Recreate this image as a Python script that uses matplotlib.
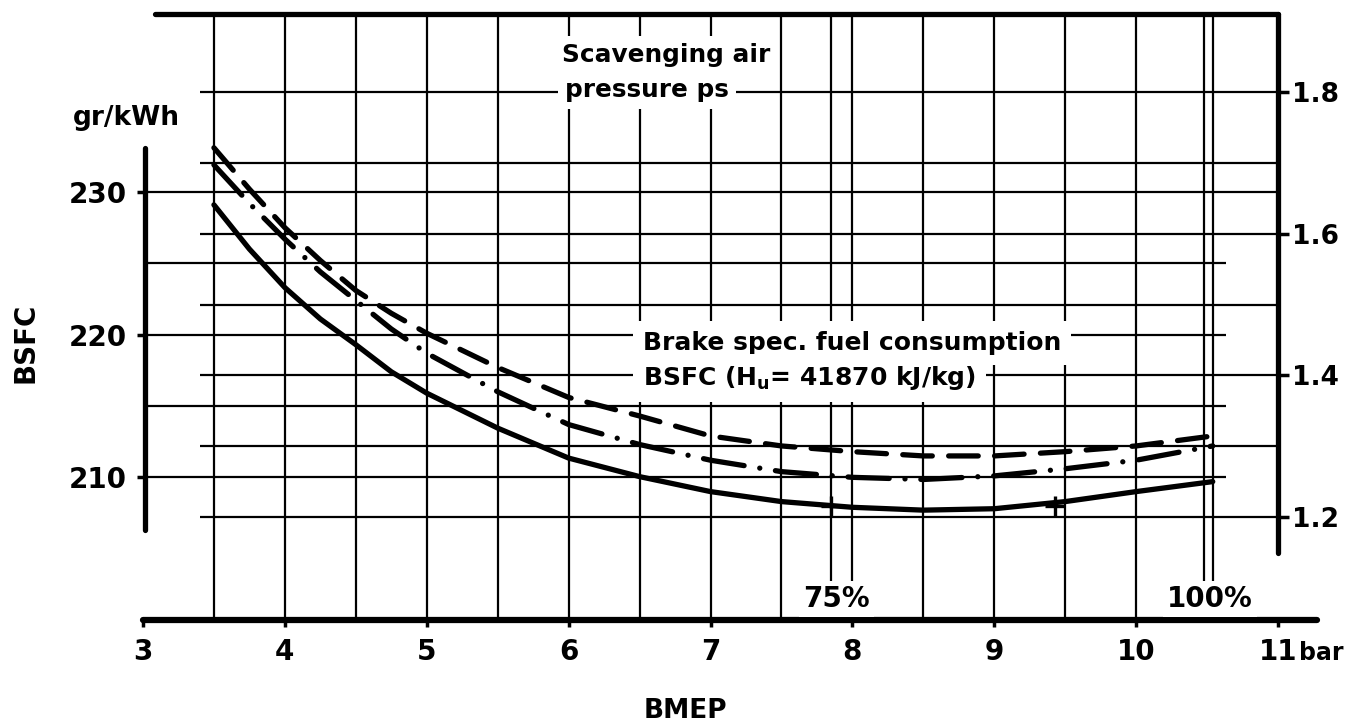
import matplotlib
matplotlib.use("Agg")
import matplotlib.pyplot as plt

# BMEP (bar) on the x axis, BSFC (g/kWh)
bmep = [3.5, 3.75, 4.0, 4.25, 4.5, 4.75, 5.0, 5.5, 6.0, 6.5, 7.0, 7.5, 8.0,
        8.5, 9.0, 9.5, 10.0, 10.54]
bsfc_solid = [229.1, 226.0, 223.3, 221.1, 219.3, 217.4, 215.9, 213.45, 211.35,
              210.05, 209.0, 208.3, 207.9, 207.7, 207.8, 208.3, 209.0, 209.7]
bsfc_dashdot = [231.9, 229.2, 226.7, 224.4, 222.4, 220.4, 218.7, 216.0, 213.7,
                212.3, 211.2, 210.4, 210.0, 209.85, 210.1, 210.6, 211.2, 212.2]
bsfc_dashed = [233.1, 230.2, 227.5, 225.2, 223.1, 221.5, 220.1, 217.7, 215.6,
               214.3, 212.9, 212.2, 211.8, 211.5, 211.5, 211.8, 212.2, 212.9]

# load points marked with a cross on the solid curve
cross_bmep = [7.85, 9.43]
cross_bsfc = [208.0, 208.0]

x_ticks = [3, 4, 5, 6, 7, 8, 9, 10, 11]
x_labels = ["3", "4", "5", "6", "7", "8", "9", "10", "11"]
bsfc_ticks = [210, 220, 230]
bsfc_labels = ["210", "220", "230"]
ps_ticks = [1.2, 1.4, 1.6, 1.8]
ps_labels = ["1.2", "1.4", "1.6", "1.8"]

grid_bmep = [3.5, 4, 4.5, 5, 5.5, 6, 6.5, 7, 7.5, 7.85, 8, 8.5, 9, 9.5, 10, 10.48, 10.54]
grid_bsfc = [210, 215, 220, 225]
grid_ps = [1.2, 1.3, 1.4, 1.5, 1.6, 1.7, 1.8]

plt.rcParams["font.family"] = ["DejaVu Sans"]
plt.rcParams["font.weight"] = "bold"
plt.rcParams["mathtext.fontset"] = "dejavusans"

# pixel layout of the original scan
W, H = 1350, 724
PX_X = (1278 - 143) / 8.0     # pixels per bar
PX_Y = (620 - 192) / 30.0     # pixels per g/kWh
PX_P = (517 - 92) / 0.6       # pixels per bar of scavenging pressure
xlim = (2.6, 11.45)
ylim = (197.0, 243.4)

left = 143 + (xlim[0] - 3) * PX_X
right = 143 + (xlim[1] - 3) * PX_X
top = 620 - (ylim[1] - 200) * PX_Y
bottom = 620 - (ylim[0] - 200) * PX_Y

fig = plt.figure(figsize=(13.5, 7.24), dpi=100)
ax = fig.add_axes([left / W, 1 - bottom / H, (right - left) / W, (bottom - top) / H])
ax.set_xlim(*xlim)
ax.set_ylim(*ylim)


def b2p(b):
    pix = 620 - (b - 200) * PX_Y
    return 1.2 + (517 - pix) / PX_P


def p2b(p):
    pix = 517 - (p - 1.2) * PX_P
    return 200 + (620 - pix) / PX_Y


TOP = 242.48
grid_kw = dict(color="black", lw=1.6, zorder=1)

# grid
ax.vlines(grid_bmep, 200, TOP, **grid_kw)
ax.hlines(grid_bsfc, 3.0, 10.63, **grid_kw)
ax.hlines([230], 3.0, 11.0, **grid_kw)
ax.hlines([p2b(p) for p in grid_ps], 3.4, 11.0, **grid_kw)

# frame: top line
ax.plot([3.085, 11.0], [TOP, TOP], color="black", lw=3.8,
        solid_capstyle="round", zorder=5, clip_on=False)

# curves
ax.plot(bmep, bsfc_solid, color="black", lw=3.8, solid_capstyle="round",
        solid_joinstyle="round", zorder=4)
ax.plot(bmep, bsfc_dashdot, color="black", lw=3.8,
        linestyle=(0, (7.8, 3.0, 0.01, 3.0)), dash_capstyle="round", zorder=4)
ax.plot(bmep, bsfc_dashed, color="black", lw=3.8,
        linestyle=(0, (5.6, 3.1)), dash_capstyle="round", zorder=4)
ax.plot(cross_bmep, cross_bsfc, linestyle="none", marker="+", color="black",
        markersize=15, markeredgewidth=2.4, zorder=4)

# axes
for s in ["top", "right"]:
    ax.spines[s].set_visible(False)
ax.spines["bottom"].set_position(("data", 200))
ax.spines["bottom"].set_bounds(3.0, 11.275)
ax.spines["bottom"].set_linewidth(4.5)
ax.spines["bottom"].set_capstyle("round")
ax.spines["left"].set_position(("data", 3.014))
ax.spines["left"].set_bounds(206.3, 233.1)
ax.spines["left"].set_linewidth(3.8)
ax.spines["left"].set_capstyle("round")

ax.set_xticks(x_ticks)
ax.set_xticklabels(x_labels)
ax.set_yticks(bsfc_ticks)
ax.set_yticklabels(bsfc_labels)
ax.tick_params(axis="x", direction="out", length=5, width=2.5, pad=8, labelsize=20)
ax.tick_params(axis="y", direction="out", length=6, width=2.5, pad=7, labelsize=20)

sec = ax.secondary_yaxis((11.0 - xlim[0]) / (xlim[1] - xlim[0]), functions=(b2p, p2b))
sec.set_yticks(ps_ticks)
sec.set_yticklabels(ps_labels)
sec.tick_params(axis="y", direction="out", length=8, width=2.5, pad=2, labelsize=19)
sec.spines["right"].set_bounds(b2p(204.7), b2p(TOP))
sec.spines["right"].set_linewidth(3.8)
sec.spines["right"].set_capstyle("round")

# text
box = dict(facecolor="white", edgecolor="none", boxstyle="square,pad=0.3")
ax.text(5.953, 239.11, "Scavenging air", fontsize=17.8, ha="left", va="baseline",
        bbox=box, zorder=3)
ax.text(5.974, 236.66, "pressure ps", fontsize=17.8, ha="left", va="baseline",
        bbox=box, zorder=3)
wide_box = dict(facecolor="white", edgecolor="none", boxstyle="square,pad=0.4")
ax.text(6.524, 218.92, "Brake spec. fuel consumption", fontsize=18, ha="left",
        va="baseline", bbox=wide_box, zorder=3)
ax.text(6.524, 216.47, r"BSFC (H$_{\mathbf{u}}$= 41870 kJ/kg)", fontsize=18,
        ha="left", va="baseline", bbox=wide_box, zorder=3)

small_box = dict(facecolor="white", edgecolor="none", boxstyle="square,pad=0.15")
ax.text(7.885, 200.91, "75%", fontsize=20, ha="center", va="baseline",
        bbox=small_box, zorder=3)
ax.text(10.52, 200.91, "100%", fontsize=20, ha="center", va="baseline",
        bbox=small_box, zorder=3)

ax.text(2.507, 234.70, "gr/kWh", fontsize=19, ha="left", va="baseline")
ax.text(11.148, 198.55, "bar", fontsize=17, ha="left", va="top")

fig.text(25 / W, 1 - 343 / H, "BSFC", fontsize=20, rotation=90,
         ha="center", va="center")
fig.text(685 / W, 1 - 711 / H, "BMEP", fontsize=19, ha="center", va="center")

fig.savefig("out.png", dpi=100)
